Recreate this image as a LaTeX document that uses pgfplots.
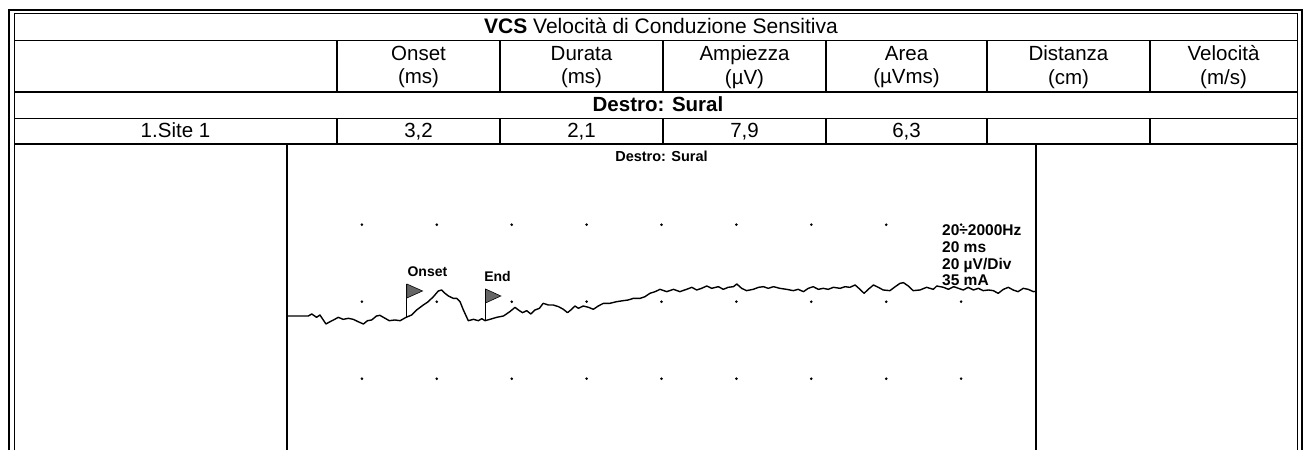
\documentclass[border=0pt]{standalone}
\usepackage{fontspec}
\setmainfont{Liberation Sans}
\usepackage{pgfplots}
\pgfplotsset{compat=1.18}
\begin{document}
\begin{tikzpicture}[x=1pt,y=1pt]
\useasboundingbox (0,0) rectangle (1306,450);
% outer double frame
\draw[line width=2pt] (9,0)--(9,440)--(1302,440)--(1302,0);
\draw[line width=1pt] (14,0)--(14,436)--(1297,436)--(1297,0);
% rows
\foreach \yy in {409.3,358,331.5,306} \draw[line width=1.4pt] (14,\yy)--(1297,\yy);
\foreach \xx in {337,500,663,826,987,1150} {
  \draw[line width=1.4pt] (\xx,358)--(\xx,409.3);
  \draw[line width=1.4pt] (\xx,306)--(\xx,331.5);
}
% plot box sides
\draw[line width=1.6pt] (287,0)--(287,306);
\draw[line width=1.4pt] (1036,0)--(1036,306);
% table text
\tikzset{tt/.style={font=\fontsize{20.5}{23.5}\selectfont, inner sep=0pt}}
\node[tt,anchor=base,font=\fontsize{21}{24}\selectfont] at (661,416) {\textbf{VCS} Velocità di Conduzione Sensitiva};
\node[tt,align=center] at (418.5,383) {Onset\\(ms)};
\node[tt,align=center] at (581.5,383) {Durata\\(ms)};
\node[tt,align=center] at (744.5,383) {Ampiezza\\(µV)};
\node[tt,align=center] at (906.5,383) {Area\\(µVms)};
\node[tt,align=center] at (1068.5,383) {Distanza\\(cm)};
\node[tt,align=center] at (1223.5,383) {Velocità\\(m/s)};
\node[tt,font=\fontsize{20.5}{23.5}\selectfont\bfseries,anchor=base] at (658,338) {Destro: Sural};
\node[tt,anchor=base] at (175.5,312) {1.Site 1};
\node[tt,anchor=base] at (418.5,312) {3,2};
\node[tt,anchor=base] at (581.5,312) {2,1};
\node[tt,anchor=base] at (744.5,312) {7,9};
\node[tt,anchor=base] at (906.5,312) {6,3};
\node[font=\fontsize{14.5}{16}\selectfont\bfseries, inner sep=0pt] at (661.5,294) {Destro: Sural};
\begin{axis}[at={(287pt,0pt)}, anchor=south west, width=749pt, height=306pt,
  scale only axis, xmin=0, xmax=20, ymin=-38.51, ymax=40.95, hide axis, clip=false]
% grid dots
\addplot[only marks, mark=*, mark size=1.1pt, black] coordinates {
(2,20)(4,20)(6,20)(8,20)(10,20)(12,20)(14,20)(16,20)(18,20)
(2,0)(4,0)(6,0)(8,0)(10,0)(12,0)(14,0)(16,0)(18,0)
(2,-20)(4,-20)(6,-20)(8,-20)(10,-20)(12,-20)(14,-20)(16,-20)(18,-20)};
% waveform
\addplot[black, line width=1.4pt, line join=round] coordinates {
(0.00,-3.71)(0.57,-3.71)(0.66,-3.19)(0.79,-4.06)(0.88,-3.45)(1.04,-5.79)(1.15,-5.19)(1.24,-4.75)
(1.37,-4.06)(1.50,-4.58)(1.64,-4.32)(1.77,-4.58)(1.90,-5.19)(2.04,-5.79)(2.15,-4.93)(2.26,-4.75)
(2.39,-3.71)(2.48,-3.54)(2.62,-4.32)(2.73,-4.93)(2.88,-4.75)(3.02,-4.93)(3.18,-4.06)(3.33,-3.45)
(3.46,-2.16)(3.64,-0.86)(3.77,0.00)(3.91,1.31)(4.04,2.78)(4.13,3.04)(4.22,2.17)(4.31,1.48)
(4.44,0.87)(4.53,0.87)(4.62,0.00)(4.71,-2.16)(4.80,-4.06)(4.84,-4.93)(4.98,-4.58)(5.11,-4.93)
(5.20,-4.41)(5.29,-4.93)(5.42,-4.58)(5.60,-4.06)(5.78,-3.71)(5.95,-2.59)(6.09,-1.46)(6.18,-2.16)
(6.29,-2.85)(6.40,-2.33)(6.51,-3.19)(6.62,-2.16)(6.74,-1.72)(6.84,-0.42)(6.98,-0.86)(7.11,-0.86)
(7.25,-1.29)(7.38,-1.98)(7.49,-2.85)(7.60,-1.98)(7.69,-1.12)(7.78,-1.72)(7.91,-1.12)(8.05,-1.46)
(8.18,-1.98)(8.31,-1.12)(8.45,-0.42)(8.62,-0.42)(8.80,0.00)(8.98,0.27)(9.11,0.44)(9.25,0.87)
(9.43,0.87)(9.56,1.31)(9.69,2.17)(9.83,2.61)(9.96,3.21)(10.14,2.61)(10.32,3.21)(10.49,2.61)
(10.67,3.21)(10.81,3.73)(10.94,3.04)(11.07,3.47)(11.21,4.08)(11.34,3.47)(11.52,3.90)(11.65,3.21)
(11.78,3.73)(11.92,3.90)(12.01,4.60)(12.14,3.47)(12.27,2.87)(12.45,3.21)(12.59,3.73)(12.72,3.90)
(12.85,3.47)(12.99,3.90)(13.16,3.47)(13.34,3.21)(13.52,2.87)(13.65,3.21)(13.79,2.61)(13.92,3.47)
(14.05,3.90)(14.19,3.21)(14.32,3.47)(14.45,3.21)(14.59,3.73)(14.77,3.47)(14.90,3.90)(15.03,3.73)
(15.17,4.34)(15.30,3.21)(15.41,2.17)(15.52,3.21)(15.66,4.34)(15.79,3.73)(15.92,3.04)(16.10,2.87)
(16.24,3.90)(16.37,4.77)(16.46,4.94)(16.59,4.08)(16.72,2.87)(16.90,3.04)(17.08,3.73)(17.26,3.21)
(17.35,4.08)(17.53,3.73)(17.66,3.21)(17.80,3.90)(17.93,3.47)(18.06,3.04)(18.19,3.73)(18.33,3.04)
(18.46,3.47)(18.59,2.87)(18.73,3.04)(18.86,2.87)(18.99,2.17)(19.13,3.21)(19.26,3.73)(19.39,3.04)
(19.52,2.61)(19.66,3.47)(19.79,3.21)(19.93,2.61)(20.00,2.70)};
% flags
\addplot[black, line width=1.3pt] coordinates {(3.2,-4.06)(3.2,4.6)};
\addplot[black, line width=1.3pt] coordinates {(5.3,-4.93)(5.3,3.3)};
\filldraw[fill=black!60, draw=black, line width=0.6pt] (axis cs:3.2,4.6)--(axis cs:3.62,2.78)--(axis cs:3.2,0.96)--cycle;
\filldraw[fill=black!60, draw=black, line width=0.6pt] (axis cs:5.3,3.3)--(axis cs:5.71,1.48)--(axis cs:5.3,-0.34)--cycle;
\node[font=\fontsize{14}{16}\selectfont\bfseries, inner sep=0pt] at (axis cs:3.75,7.7) {Onset};
\node[font=\fontsize{14}{16}\selectfont\bfseries, inner sep=0pt] at (axis cs:5.62,6.67) {End};
\node[font=\fontsize{15.5}{16.7}\selectfont\bfseries, inner sep=0pt, anchor=north west, align=left] at (axis cs:17.49,20.0) {20÷2000Hz\\20 ms\\20 µV/Div\\35 mA};
\end{axis}
\end{tikzpicture}
\end{document}
